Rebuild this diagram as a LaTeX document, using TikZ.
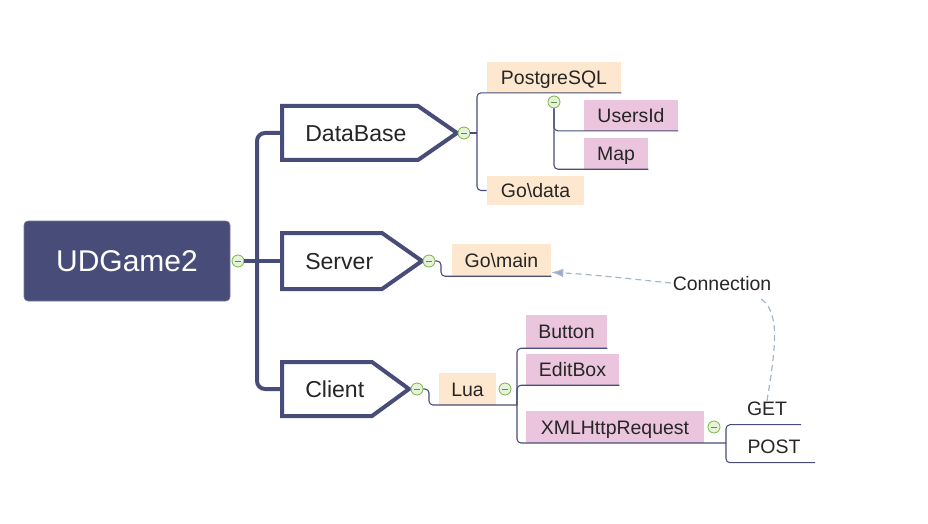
\documentclass[tikz,border=0pt]{standalone}
\usepackage{fontspec}
\setmainfont{Liberation Sans}
\usetikzlibrary{arrows.meta,calc}
\definecolor{navy}{HTML}{474D78}
\definecolor{mmPeach}{HTML}{FDE8CF}
\definecolor{mmPink}{HTML}{EBC5DD}
\definecolor{txt}{HTML}{262626}
\definecolor{btnG}{HTML}{78B545}
\definecolor{btnF}{HTML}{E6F2DA}
\definecolor{relC}{HTML}{A4B6CC}
\begin{document}
\begin{tikzpicture}[x=0.75pt,y=-0.75pt,
  rootbox/.style={rectangle, rounded corners=3pt, fill=navy, draw=navy!75, text=white,
    font=\fontsize{22.5}{26}\selectfont, minimum width=154.5pt, minimum height=60pt,
    inner sep=0pt, text height=16.1pt, text depth=0pt},
  toptext/.style={anchor=west, inner sep=0pt, text=txt, font=\fontsize{17.3}{20}\selectfont,
    text height=12.4pt, text depth=0pt},
  pent/.style={draw=navy, line width=3pt, fill=white},
  trunk/.style={draw=navy, line width=3pt, rounded corners=6pt},
  leaf/.style={rectangle, inner sep=0pt, text=txt, font=\fontsize{14.6}{17}\selectfont,
    text height=10.5pt, text depth=0pt},
  peachbox/.style={leaf, fill=mmPeach},
  pinkbox/.style={leaf, fill=mmPink},
  branch/.style={draw=navy, line width=0.8pt, rounded corners=3pt},
  cbtn/.style={circle, draw=btnG, fill=btnF, line width=0.6pt, minimum size=9pt, inner sep=0pt,
    path picture={\draw[btnG!80!black, line width=0.7pt]
      ([xshift=-2.3pt]path picture bounding box.center) -- ([xshift=2.3pt]path picture bounding box.center);}},
  rel/.style={draw=relC, line width=0.9pt, dash pattern=on 4.5pt off 3pt}
]
\useasboundingbox (0,0) rectangle (928,524);

% root
\node[rootbox] (root) at (127,261) {UDGame2};
\node[cbtn] (c0) at (238,261) {};

% trunk
\coordinate (dbL) at (282,133);
\coordinate (srvL) at (282,261);
\coordinate (cliL) at (282,389);
\draw[trunk] (dbL) -- (257,133) -- (257,389) -- (cliL);
\draw[navy, line width=3pt] (c0.east) -- (srvL);

% main topics
\draw[pent] (282,106) -- (418,106) -- (457,133) -- (418,160) -- (282,160) -- cycle;
\draw[pent] (282,233) -- (382,233) -- (422,261) -- (382,289) -- (282,289) -- cycle;
\draw[pent] (282,362) -- (372,362) -- (409,389) -- (372,416) -- (282,416) -- cycle;
\node[toptext] (db) at (305,133) {DataBase};
\node[toptext] (srv) at (305,261) {Server};
\node[toptext] (cli) at (305,389) {Client};
\node[cbtn] (cdb) at (464,133) {};
\node[cbtn] (csrv) at (429,261) {};
\node[cbtn] (ccli) at (417,389) {};

% DataBase branch
\node[peachbox, minimum width=100.5pt, minimum height=22.9pt] (pg) at (554,77.3) {PostgreSQL};
\node[peachbox, minimum width=72.75pt, minimum height=21.75pt] (gd) at (535.5,190.5) {Go\textbackslash data};
\coordinate (dbV) at (477,133);
\draw[branch] (cdb.east) -- (dbV);
\draw[branch] (pg.south east) -| (dbV) |- (gd.west);
\node[pinkbox, minimum width=70.5pt, minimum height=23pt] (us) at (631,115.3) {UsersId};
\node[pinkbox, minimum width=48pt, minimum height=23.5pt] (map) at (616,153.3) {Map};
\node[cbtn] (cpg) at (554,102) {};
\draw[branch] (cpg.south) |- (us.south east);
\draw[branch] (cpg.south) |- (map.south east);

% Server branch
\node[peachbox, minimum width=74.25pt, minimum height=24pt] (gm) at (501.5,260) {Go\textbackslash main};
\coordinate (srvV) at (441,261);
\draw[branch] (csrv.east) -- (srvV) |- (gm.south east);

% Client branch
\node[peachbox, minimum width=42.75pt, minimum height=24pt] (lua) at (467.5,389) {Lua};
\node[cbtn] (clua) at (505,389) {};
\coordinate (cliV) at (429,389);
\coordinate (luaV) at (517,405);
\draw[branch] (ccli.east) -- (cliV) |- (luaV);
\node[pinkbox, minimum width=60.75pt, minimum height=24.75pt] (btn) at (566.5,331.5) {Button};
\node[pinkbox, minimum width=69.75pt, minimum height=23.25pt] (eb) at (572.5,369.5) {EditBox};
\node[pinkbox, minimum width=133.5pt, minimum height=24pt] (xml) at (615,427) {XMLHttpRequest};
\coordinate (gpV) at (726,443);
\draw[branch] (btn.south east) -| (luaV) |- (gpV);
\draw[branch] (luaV) |- (eb.south east);
\node[cbtn] (cxml) at (714,427) {};
\node[leaf] (get) at (767,408) {GET};
\node[leaf] (post) at (774,446) {POST};
\coordinate (getU) at (801,424.7);
\coordinate (postU) at (815,462.7);
\draw[branch] (getU) -| (gpV) |- (postU);

% relationship
\node[leaf, inner sep=1pt] (conn) at (722,283) {Connection};
\draw[rel] (get.north) .. controls (776,345) and (781,310) .. ([xshift=-11pt,yshift=-4pt]conn.south east);
\draw[rel, -{Latex[length=9pt,width=6.5pt,fill=relC!90!navy]}] (conn.west) .. controls (640,280) and (600,275) .. ([yshift=3pt]gm.south east);
\end{tikzpicture}
\end{document}
